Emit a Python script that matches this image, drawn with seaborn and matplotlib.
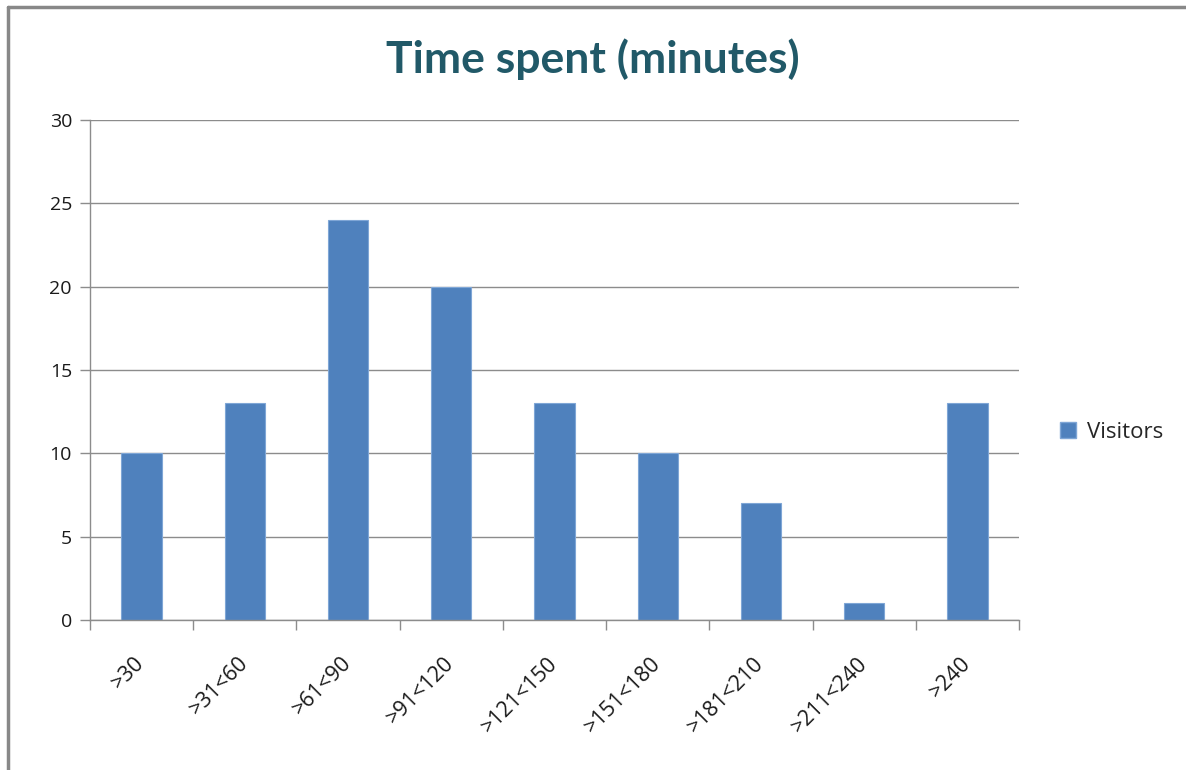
import matplotlib
matplotlib.use("Agg")
import matplotlib.pyplot as plt
import seaborn as sns
import pandas as pd
from matplotlib.lines import Line2D
from matplotlib.patches import Patch

categories = [">30", ">31<60", ">61<90", ">91<120", ">121<150",
              ">151<180", ">181<210", ">211<240", ">240"]
visitors = [10, 13, 24, 20, 13, 10, 7, 1, 13]
series_name = "Visitors"
title = "Time spent (minutes)"

df = pd.DataFrame({"cat": categories, "val": visitors})

sns.set_theme(style="white")
plt.rcParams['font.family'] = ['Open Sans', 'DejaVu Sans']

fig = plt.figure(figsize=(11.86, 7.7), dpi=100)
ax = fig.add_axes([90/1186, 1-620/770, (1019-90)/1186, 500/770])

sns.barplot(data=df, x="cat", y="val", color="#4F81BD", width=0.39,
            saturation=1, ax=ax, edgecolor="#7FA6D6", linewidth=0.8)

ax.set_ylim(0, 30)
ax.set_xlim(-0.5, len(categories) - 0.5)
ax.set_yticks(range(0, 31, 5))
ax.yaxis.grid(True, color="#8C8C8C", linewidth=1)
ax.set_axisbelow(True)
ax.set_xlabel("")
ax.set_ylabel("")

for s in ["top", "right"]:
    ax.spines[s].set_visible(False)
for s in ["left", "bottom"]:
    ax.spines[s].set_color("#8C8C8C")
    ax.spines[s].set_linewidth(1)

ax.tick_params(axis="y", length=7, color="#8C8C8C", width=1, labelsize=14,
               labelcolor="#1a1a1a", left=True, pad=6)
# x ticks at category boundaries
ax.set_xticks([i - 0.5 for i in range(len(categories) + 1)], minor=False)
ax.set_xticklabels([])
ax.set_xticks(range(len(categories)), minor=True)
ax.set_xticklabels(categories, minor=True, rotation=45, ha="right", va="center",
                   rotation_mode="anchor", fontsize=15.5, color="#1a1a1a")
ax.tick_params(axis="x", which="major", length=7, color="#8C8C8C", width=1, bottom=True)
ax.tick_params(axis="x", which="minor", length=0, pad=29)

fig.suptitle(title, x=0.5, y=1-38/770, va="top",
             fontsize=32, fontweight="bold", color="#215968",
             family=["Lato", "DejaVu Sans"])

handles = [Patch(facecolor="#4F81BD", edgecolor="#7FA6D6", label=series_name)]
fig.legend(handles=handles, loc="center left", bbox_to_anchor=(1060/1186, 1-432/770),
           frameon=False, fontsize=16, handlelength=0.7, handleheight=0.7,
           handletextpad=0.5, borderpad=0, borderaxespad=0)

# outer frame of the chart area
fig.add_artist(Line2D([8/1186, 8/1186], [0, 1-7/770], transform=fig.transFigure,
                      color="#888888", linewidth=2.5))
fig.add_artist(Line2D([8/1186, 1], [1-7/770, 1-7/770], transform=fig.transFigure,
                      color="#888888", linewidth=2.5))

fig.savefig("out.png", dpi=100)
